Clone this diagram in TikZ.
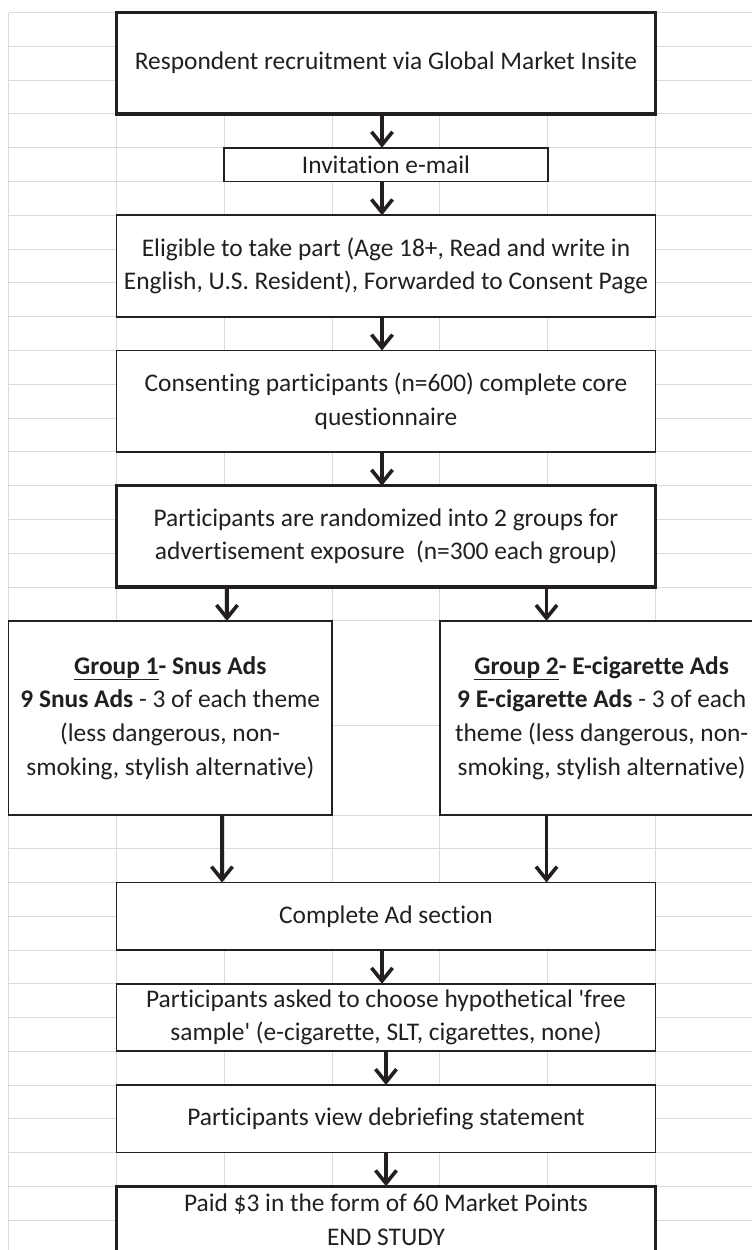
\documentclass[tikz,border=0pt]{standalone}
\usepackage{fontspec}
\setmainfont{Carlito}[Ligatures=NoCommon]
\usetikzlibrary{arrows.meta}
\definecolor{gridc}{RGB}{218,218,218}
\definecolor{ink}{RGB}{35,31,32}
\begin{document}
\begin{tikzpicture}[x=1pt,y=-1pt,
  box/.style={draw=ink, fill=white, line width=1.7pt, inner sep=0pt, outer sep=0pt,
    align=center, text=ink, font=\fontsize{25.4}{33.6}\selectfont},
  thickbox/.style={box, line width=3.4pt},
  arr/.style={draw=ink, line width=3.6pt, -{Straight Barb[length=13pt,width=21pt]}},
  gridline/.style={draw=gridc, line width=1pt}]
\useasboundingbox (0,0) rectangle (752,1250);
\clip (0,0) rectangle (752,1250);
\fill[white] (0,0) rectangle (752,1250);
% spreadsheet grid
\foreach \x in {8.5,116.35,224.2,332.05,439.9,547.75,655.6}
  \draw[gridline] (\x,12.5) -- (\x,1260);
\foreach \y in {12.5,46.3,80.1,113.9,147.7,181.5,215.3,249.1,282.9,316.7,350.5,384.3,418.1,451.9,485.7,519.5,553.3,587.1,620.9,725,815,848.75,882.5,916.25,950,983.75,1017.5,1051.25,1085,1118.75,1152.5,1186.25,1220}
  \draw[gridline] (8.5,\y) -- (760,\y);
% arrow columns
\coordinate (xm) at (382,0);
\coordinate (xd) at (386,0);
\coordinate (xg1a) at (227,0);
\coordinate (xg1b) at (222,0);
\coordinate (xg2) at (546.5,0);
% boxes
\node[thickbox, minimum width=539.25pt, minimum height=101.4pt] (b1) at (385.975,63.2)
  {Respondent recruitment via Global Market Insite};
\node[box, minimum width=323.55pt, minimum height=33.8pt] (b2) at (385.975,164.6)
  {Invitation e-mail};
\node[box, minimum width=539.25pt, minimum height=101.4pt] (b3) at (385.975,266)
  {Eligible to take part (Age 18+, Read and write in\\English, U.S. Resident), Forwarded to Consent Page};
\node[box, minimum width=539.25pt, minimum height=101.4pt] (b4) at (385.975,401.2)
  {Consenting participants (n=600) complete core\\questionnaire};
\node[thickbox, minimum width=539.25pt, minimum height=101.4pt] (b5) at (385.975,536.4)
  {Participants are randomized into 2 groups for\\advertisement exposure\ \ (n=300 each group)};
\node[box, minimum width=323.55pt, minimum height=194.1pt] (g1) at (170.275,717.95)
  {\textbf{\underline{Group 1}- Snus Ads}\\\textbf{9 Snus Ads} - 3 of each theme\\(less dangerous, non-\\smoking, stylish alternative)};
\node[box, minimum width=323.55pt, minimum height=194.1pt] (g2) at (601.675,717.95)
  {\textbf{\underline{Group 2}- E-cigarette Ads}\\\textbf{9 E-cigarette Ads} - 3 of each\\theme (less dangerous, non-\\smoking, stylish alternative)};
\node[box, minimum width=539.25pt, minimum height=67.5pt] (c) at (385.975,916.25)
  {Complete Ad section};
\node[box, minimum width=539.25pt, minimum height=67.5pt] (a) at (385.975,1017.5)
  {Participants asked to choose hypothetical \textquotesingle free\\sample\textquotesingle{} (e-cigarette, SLT, cigarettes, none)};
\node[box, minimum width=539.25pt, minimum height=67.5pt] (d) at (385.975,1118.75)
  {Participants view debriefing statement};
\node[thickbox, minimum width=539.25pt, minimum height=67.5pt] (p) at (385.975,1220)
  {Paid \$3 in the form of 60 Market Points\\END STUDY};
% connectors
\draw[arr] (b1.south -| xm) -- (b2.north -| xm);
\draw[arr] (b2.south -| xm) -- (b3.north -| xm);
\draw[arr] (b3.south -| xm) -- (b4.north -| xm);
\draw[arr] (b4.south -| xm) -- (b5.north -| xm);
\draw[arr] (b5.south -| xg1a) -- (g1.north -| xg1a);
\draw[arr] (b5.south -| xg2) -- (g2.north -| xg2);
\draw[arr] (g1.south -| xg1b) -- (c.north -| xg1b);
\draw[arr] (g2.south -| xg2) -- (c.north -| xg2);
\draw[arr] (c.south -| xm) -- (a.north -| xm);
\draw[arr] (a.south -| xd) -- (d.north -| xd);
\draw[arr] (d.south -| xd) -- (p.north -| xd);
\end{tikzpicture}
\end{document}
